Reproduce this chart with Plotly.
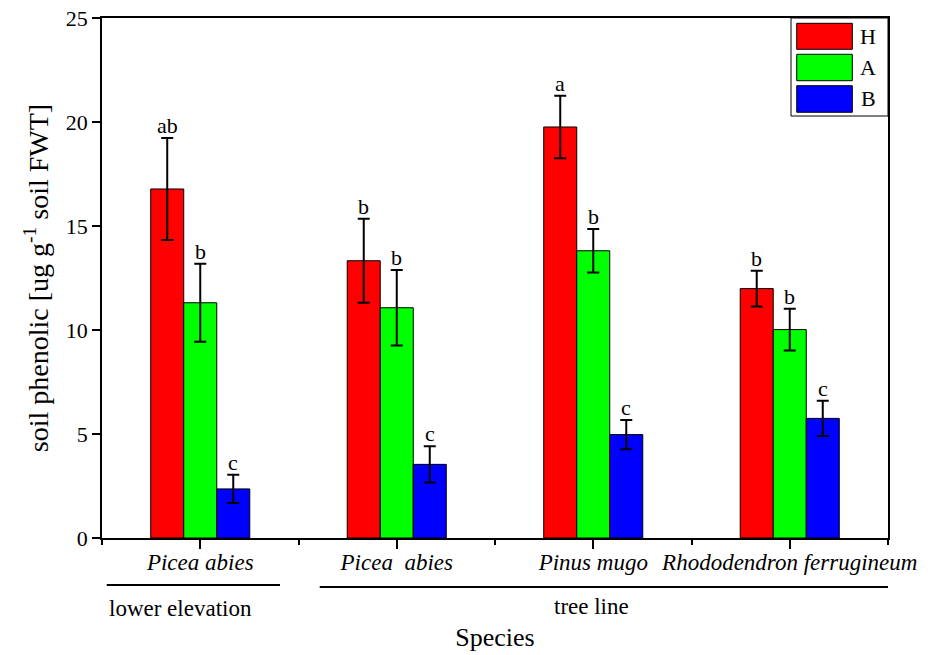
import plotly.graph_objects as go

# ---- data ----
species = ["Picea abies", "Picea\u00a0 abies", "Pinus mugo", "Rhododendron ferrugineum"]
positions = [1, 2, 3, 4]
H_vals = [16.78, 13.33, 19.76, 11.99]
H_err = [2.45, 2.02, 1.50, 0.86]
A_vals = [11.31, 11.07, 13.81, 10.02]
A_err = [1.88, 1.82, 1.04, 1.00]
B_vals = [2.36, 3.54, 4.97, 5.75]
B_err = [0.68, 0.87, 0.70, 0.85]
H_letters = ["ab", "b", "a", "b"]
A_letters = ["b", "b", "b", "b"]
B_letters = ["c", "c", "c", "c"]
series_names = ["H", "A", "B"]
series_colors = ["#FF0000", "#00FF00", "#0000FF"]
y_ticks = [0, 5, 10, 15, 20, 25]
group_labels = ["lower elevation", "tree line"]

FONT = "Times New Roman, Liberation Serif, serif"
bargap = 0.496
w = (1 - bargap) / 3

fig = go.Figure()
series = [(H_vals, H_err, H_letters), (A_vals, A_err, A_letters), (B_vals, B_err, B_letters)]
for k, (vals, errs, letters) in enumerate(series):
    fig.add_trace(go.Bar(
        x=positions, y=vals, name=series_names[k],
        marker=dict(color=series_colors[k], line=dict(color="black", width=1)),
        error_y=dict(type="data", array=errs, visible=True, color="black",
                     thickness=2, width=6),
        showlegend=False,
    ))
    for p, v, e, t in zip(positions, vals, errs, letters):
        fig.add_annotation(x=p + (k - 1) * w, y=v + e, xref="x", yref="y",
                           text=t, showarrow=False, yanchor="bottom", yshift=-2,
                           font=dict(family=FONT, size=22, color="black"))

# ---- custom legend (large swatches like the original) ----
lx0, lx1 = 0.8766, 1.0
ly0, ly1 = 0.8115, 1.0
fig.add_shape(type="rect", xref="paper", yref="paper", x0=lx0, x1=lx1, y0=ly0, y1=ly1,
              fillcolor="white", line=dict(color="black", width=1), layer="above")
sw_y = [(0.9398, 0.9898), (0.8794, 0.9302), (0.8187, 0.8698)]
for k in range(3):
    fig.add_shape(type="rect", xref="paper", yref="paper", x0=0.8839, x1=0.9546,
                  y0=sw_y[k][0], y1=sw_y[k][1], fillcolor=series_colors[k],
                  line=dict(color="black", width=1), layer="above")
    fig.add_annotation(x=0.9746, y=(sw_y[k][0] + sw_y[k][1]) / 2, xref="paper", yref="paper",
                       text=series_names[k], showarrow=False, xanchor="center", yanchor="middle",
                       font=dict(family=FONT, size=22, color="black"))

# ---- group lines and labels below the axis ----
fig.add_shape(type="line", xref="paper", yref="paper", x0=0.006, x1=0.2265, y0=-0.0904, y1=-0.0904,
              line=dict(color="black", width=2))
fig.add_shape(type="line", xref="paper", yref="paper", x0=0.277, x1=1.0, y0=-0.0942, y1=-0.0942,
              line=dict(color="black", width=2))
fig.add_annotation(x=0.006, y=-0.1365, xref="paper", yref="paper", text=group_labels[0],
                   showarrow=False, xanchor="left", yanchor="middle",
                   font=dict(family=FONT, size=23, color="black"))
fig.add_annotation(x=0.623, y=-0.131, xref="paper", yref="paper", text=group_labels[1],
                   showarrow=False, xanchor="center", yanchor="middle",
                   font=dict(family=FONT, size=23, color="black"))

fig.update_layout(
    width=931, height=655,
    margin=dict(l=102, r=43, t=18, b=117),
    barmode="group", bargap=bargap, bargroupgap=0,
    plot_bgcolor="white", paper_bgcolor="white",
    font=dict(family=FONT, color="black"),
    xaxis=dict(
        range=[0.5, 4.5], tickvals=positions,
        ticktext=["<i>%s</i>" % s for s in species],
        ticks="outside", ticklen=9, tickwidth=1.5, tickcolor="black",
        minor=dict(tickvals=[0.5, 1.5, 2.5, 3.5, 4.5], ticks="outside", ticklen=5,
                   tickwidth=1.5, tickcolor="black", showgrid=False),
        showline=True, linecolor="black", linewidth=1.5, mirror=True,
        showgrid=False, zeroline=False,
        tickfont=dict(family=FONT, size=23, color="black"),
        ticklabelstandoff=-6,
        title=dict(text="Species", font=dict(family=FONT, size=26, color="black"), standoff=53),
        automargin=False,
    ),
    yaxis=dict(
        range=[0, 25], tickvals=y_ticks,
        ticks="outside", ticklen=8, tickwidth=1.5, tickcolor="black",
        showline=True, linecolor="black", linewidth=1.5, mirror=True,
        showgrid=False, zeroline=False,
        tickfont=dict(family=FONT, size=22, color="black"),
        title=dict(text="soil phenolic [ug g<sup>-1</sup> soil FWT]",
                   font=dict(family=FONT, size=28, color="black"), standoff=9),
        automargin=False,
    ),
)

fig.write_html("out.html")
